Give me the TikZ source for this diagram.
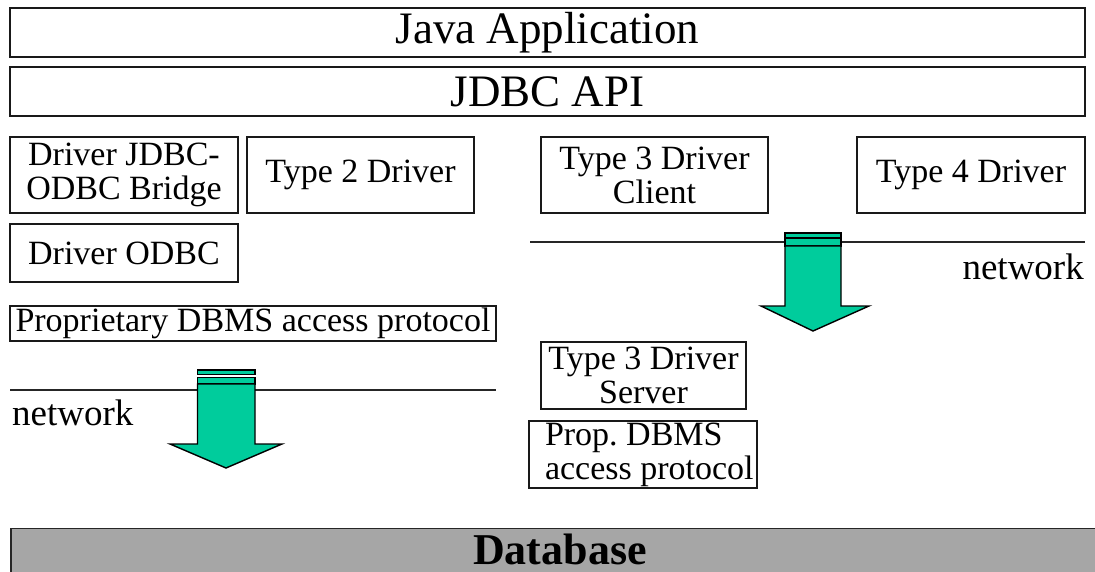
\documentclass[tikz,border=0pt]{standalone}
\usepackage{fontspec}
\setmainfont{Liberation Serif}
\begin{document}
\frenchspacing
\begin{tikzpicture}[x=1pt,y=-1pt,
  box/.style={draw=black!90, line width=1.9pt, fill=white, inner sep=0pt, align=center,
    font=\fontsize{34}{34}\selectfont},
  big/.style={font=\fontsize{45}{46}\selectfont},
  teal/.style={fill=arrowteal, draw=black, line width=1.4pt},
  netline/.style={draw=black!85, line width=1.2pt},
  lbl/.style={inner sep=0pt, font=\fontsize{37}{38}\selectfont}]
\definecolor{arrowteal}{HTML}{00CC9C}
\definecolor{dbgray}{HTML}{A6A6A6}
\useasboundingbox (0,0) rectangle (1095,572);
\clip (0,0) rectangle (1095,572);
% top layers
\node[box, big, minimum width=1075pt, minimum height=49pt] (app) at (547.5,32.5) {Java Application};
\node[box, big, minimum width=1075pt, minimum height=49pt] (api) at (547.5,91.5) {JDBC API};
% drivers
\node[box, minimum width=228pt, minimum height=76pt] (bridge) at (124,175) {Driver JDBC-\\ODBC Bridge};
\node[box, minimum width=227pt, minimum height=76pt] (t2) at (360.5,175) {Type 2 Driver};
\node[box, minimum width=227pt, minimum height=76pt] (t3c) at (654.5,175) {Type 3 Driver\\Client};
\node[box, minimum width=228pt, minimum height=76pt] (t4) at (971,175) {Type 4 Driver};
\node[box, minimum width=228pt, minimum height=58pt] (odbc) at (124,253) {Driver ODBC};
\node[box, minimum width=486pt, minimum height=35pt] (prop) at (253,323.5) {Proprietary DBMS access protocol};
\node[box, minimum width=205pt, minimum height=67pt] (t3s) at (643.5,375.5) {Type 3 Driver\\Server};
\node[box, minimum width=228pt, minimum height=67pt] (prop2) at (643,454.5) {};
\node[box, draw=none, fill=none, align=left, anchor=west] (prop2t) at ([xshift=16pt]prop2.west) {Prop. DBMS\\access protocol};
% network lines
\coordinate (l1a) at (10,390); \coordinate (l1b) at (496,390);
\coordinate (l2a) at (530,242); \coordinate (l2b) at (1085,242);
\draw[netline] (l1a) -- (l1b);
\draw[netline] (l2a) -- (l2b);
\node[lbl, anchor=base west] (net1) at (12,425) {network};
\node[lbl, anchor=base east] (net2) at (1084,279) {network};
% left arrow
\draw[teal] (197.5,370) rectangle (255,374.5);
\draw[teal] (197.5,377.5) rectangle (255,384);
\draw[teal] (197.5,384) -- (255,384) -- (255,444) -- (282,444) -- (226,468) -- (170,444) -- (197.5,444) -- cycle;
% right arrow
\draw[teal] (785,233) rectangle (841,237.5);
\draw[teal] (785,238.5) rectangle (841,246);
\draw[teal] (785,246) -- (841,246) -- (841,306) -- (869,306) -- (813,331) -- (761,306) -- (785,306) -- cycle;
% database
\node[draw=black!85, line width=1.9pt, fill=dbgray, inner sep=0pt, minimum width=1100pt, minimum height=60pt, anchor=north west] (db) at (10,527.5) {};
\node[inner sep=0pt, font=\fontsize{44}{44}\selectfont\bfseries, anchor=base] (dbt) at (560,564) {Database};
\end{tikzpicture}
\end{document}
